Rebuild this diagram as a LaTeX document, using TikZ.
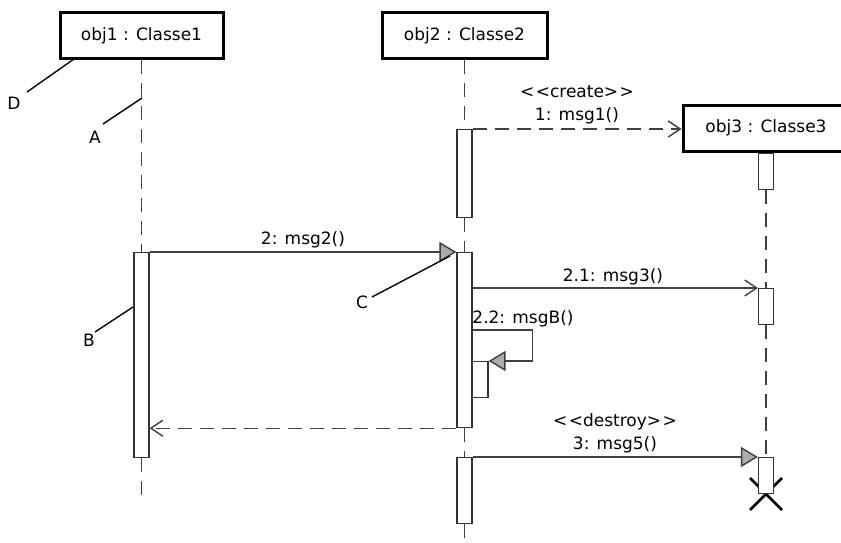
\documentclass[tikz,border=0pt]{standalone}
\usepackage{fontspec}
\setmainfont{DejaVu Sans}
\usetikzlibrary{arrows.meta}
\begin{document}
\begin{tikzpicture}[x=1pt,y=-1pt,
  font=\fontsize{17}{20}\selectfont,
  objbox/.style={draw=black,line width=3pt,fill=white,minimum width=#1,minimum height=46pt,inner sep=0pt},
  act/.style={draw=black!80,line width=1.2pt,fill=white,minimum width=15pt,inner sep=0pt},
  life/.style={draw=black!75,line width=1.3pt,dash pattern=on 14pt off 9pt},
  sync/.style={draw=black!75,line width=1.4pt,-{Triangle[length=17pt,width=20pt,fill=gray!65,color=black!75]}},
  async/.style={draw=black!75,line width=1.4pt,-{Straight Barb[length=12pt,width=16pt]}},
  ret/.style={async,dash pattern=on 14pt off 8pt},
  note/.style={draw=black,line width=1.4pt},
  lbl/.style={inner sep=0pt}
]
\useasboundingbox (0,0) rectangle (841,543);
\clip (0,0) rectangle (841,543);
\fill[white] (0,0) rectangle (841,543);

% lifeline heads
\node[objbox=163pt] (o1) at (141.5,35.5) {obj1 : Classe1};
\node[objbox=165pt] (o2) at (464.5,35.5) {obj2 : Classe2};
\node[objbox=166pt] (o3) at (766,128) {obj3 : Classe3};

\coordinate (end1) at (141.5,502);
\coordinate (end2) at (464.5,548);

% activation positions
\path (141.5,252) node[act,minimum height=205pt,anchor=north] (act1) {};
\path (464.5,129) node[act,minimum height=88pt,anchor=north] (act2a) {};
\path (464.5,252) node[act,minimum height=175pt,anchor=north] (act2b) {};
\path (464.5,457) node[act,minimum height=66pt,anchor=north] (act2c) {};
\path (480,361) node[act,minimum height=36pt,minimum width=16pt,anchor=north] (self) {};
\path (o3.south) node[act,minimum height=36pt,anchor=north] (act3a) {};
\path (766,288) node[act,minimum height=36pt,anchor=north] (act3b) {};
\path (766,457) node[act,minimum height=36pt,anchor=north] (act3c) {};

% lifelines
\draw[life] (o1.south) -- (act1.north);
\draw[life] (act1.south) -- (end1);
\draw[life] (o2.south) -- (act2a.north);
\draw[life] (act2a.south) -- (act2b.north);
\draw[life] (act2b.south) -- (act2c.north);
\draw[life] (act2c.south) -- (end2);
\draw[life] (act3a.south) -- (act3b.north);
\draw[life] (act3b.south) -- (act3c.north);

% destruction mark (behind the last activation)
\coordinate (xc) at (766,494);
\draw[line width=2.8pt,black] ([shift={(-16,-16)}]xc) -- ([shift={(16,16)}]xc)
  ([shift={(16,-16)}]xc) -- ([shift={(-16,16)}]xc);

% activations drawn over lifelines
\node[act,minimum height=205pt] at (act1) {};
\node[act,minimum height=88pt] at (act2a) {};
\node[act,minimum height=175pt] at (act2b) {};
\node[act,minimum height=66pt] at (act2c) {};
\node[act,minimum height=36pt,minimum width=16pt] at (self) {};
\node[act,minimum height=36pt] at (act3a) {};
\node[act,minimum height=36pt] at (act3b) {};
\node[act,minimum height=36pt] at (act3c) {};

% messages
\draw[ret] (act2a.north east) -- (act2a.north east -| o3.west);
\node[lbl] (lcreate) at (577,92) {<\kern1.5pt<create>\kern1.5pt>};
\node[lbl] (lmsg1) at (577,116) {1: msg1()};

\draw[sync] (act1.north east) -- (act2b.north west);
\node[lbl] (lmsg2) at (303,240) {2: msg2()};

\draw[async] (act2b.east |- act3b.north) -- (act3b.north west);
\node[lbl] (lmsg3) at (613,277) {2.1: msg3()};

\draw[sync] (act2b.east |- 0,330) -- ++(60,0) |- (self.north east);
\node[lbl] (lmsgB) at (523,319) {2.2: msgB()};

\draw[ret] (act2b.south west) -- (act2b.south west -| act1.east);

\draw[sync] (act2c.north east) -- (act3c.north west);
\node[lbl] (ldestroy) at (615,422) {<\kern1.5pt<destroy>\kern1.5pt>};
\node[lbl] (lmsg5) at (615,445) {3: msg5()};

% annotation labels
\node[lbl] (lD) at (14,103) {D};
\coordinate (pD0) at (27,92); \coordinate (pD1) at (74,59);
\draw[note] (pD0) -- (pD1);
\node[lbl] (lA) at (95,137) {A};
\coordinate (pA0) at (103,124); \coordinate (pA1) at (142,98);
\draw[note] (pA0) -- (pA1);
\node[lbl] (lB) at (89,340) {B};
\coordinate (pB0) at (95,332); \coordinate (pB1) at (133,307);
\draw[note] (pB0) -- (pB1);
\node[lbl] (lC) at (362,302) {C};
\coordinate (pC0) at (372,297); \coordinate (pC1) at (450,256);
\draw[note] (pC0) -- (pC1);
\end{tikzpicture}
\end{document}
